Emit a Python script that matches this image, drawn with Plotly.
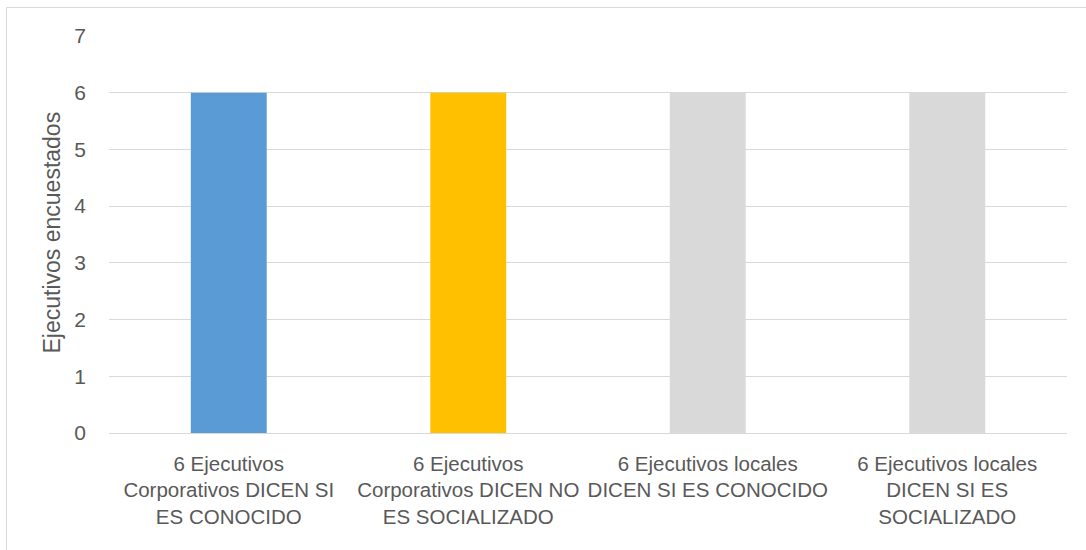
import plotly.graph_objects as go

categories = [
    "6 Ejecutivos<br>Corporativos DICEN SI<br>ES CONOCIDO",
    "6 Ejecutivos<br>Corporativos DICEN NO<br>ES SOCIALIZADO",
    "6 Ejecutivos locales<br>DICEN SI ES CONOCIDO",
    "6 Ejecutivos locales<br>DICEN SI ES<br>SOCIALIZADO",
]
values = [6, 6, 6, 6]
bar_colors = ["#5B9BD5", "#FFC000", "#D9D9D9", "#D9D9D9"]
y_ticks = [0, 1, 2, 3, 4, 5, 6, 7]
y_title = "Ejecutivos encuestados"

W, H = 1086, 550
L, R, T, B = 109, 19, 36, 117
pw, ph = W - L - R, H - T - B

fig = go.Figure(go.Bar(x=categories, y=values, marker=dict(color=bar_colors, line=dict(width=0)),
                       hoverinfo="x+y"))

fig.update_layout(
    width=W, height=H,
    margin=dict(l=L, r=R, t=T, b=B, pad=0, autoexpand=False),
    paper_bgcolor="white", plot_bgcolor="white",
    bargap=0.683,
    showlegend=False,
    font=dict(family="Liberation Sans, Arial, sans-serif", color="#595959"),
    xaxis=dict(showgrid=False, showline=False, ticks="", tickfont=dict(size=20.5, color="#595959"),
               tickangle=0, automargin=False,
               ticklabelstandoff=16, fixedrange=True),
    yaxis=dict(range=[0, 7], tickvals=y_ticks, showgrid=True, gridcolor="#D9D9D9", gridwidth=1,
               zeroline=True, zerolinecolor="#D9D9D9", zerolinewidth=1, showline=False, ticks="",
               automargin=False,
               tickfont=dict(size=21, color="#595959"), ticklabelstandoff=22, fixedrange=True),
    annotations=[dict(text=y_title, textangle=-90, xref="paper", yref="paper",
                      x=(52 - L) / pw, y=(H - B - 232.5) / ph, xanchor="center", yanchor="middle",
                      showarrow=False, font=dict(size=23, color="#595959"))],
    shapes=[dict(type="rect", xref="paper", yref="paper",
                 x0=(6.5 - L) / pw, x1=(W + 5 - L) / pw,
                 y0=-(B + 5) / ph, y1=(H - B - 7.5) / ph,
                 line=dict(color="#D9D9D9", width=1), fillcolor="rgba(0,0,0,0)", layer="below")],
)

fig.write_html("out.html")
